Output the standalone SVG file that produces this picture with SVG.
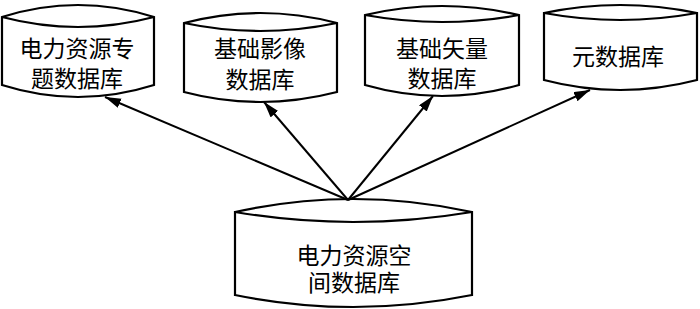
<svg xmlns="http://www.w3.org/2000/svg" width="700" height="309" viewBox="0 0 700 309">
<style>
.db{fill:#fff;stroke:#000;stroke-width:2.2;stroke-linejoin:miter}
.lens{fill:none;stroke:#000;stroke-width:2.2}
.t{font-family:"Liberation Sans","Noto Sans CJK SC",sans-serif;font-size:23px;fill:#000;text-anchor:middle}
.c{stroke:#000;stroke-width:2;fill:none}
</style>
<defs>
<marker id="ah" markerUnits="userSpaceOnUse" markerWidth="18" markerHeight="12" refX="16" refY="5" orient="auto">
<path d="M0,0 L16,5 L0,10 Z" fill="#000"/>
</marker>
</defs>
<rect width="700" height="309" fill="#fff"/>
<g id="n1">
<path class="db" d="M2,17 Q78,-7 154,17 L154,85 Q78,109 2,85 Z"/>
<path class="lens" d="M2,17 Q78,37 154,17"/>
<text class="t" x="77" y="57">电力资源专</text>
<text class="t" x="77" y="87">题数据库</text>
</g>
<g id="n2">
<path class="db" d="M184,23 Q260,3 337,23 L337,92 Q260,112 184,92 Z"/>
<path class="lens" d="M184,23 Q260,39 337,23"/>
<text class="t" x="260" y="57">基础影像</text>
<text class="t" x="260" y="88">数据库</text>
</g>
<g id="n3">
<path class="db" d="M365,15 Q442,-3 519,15 L519,85 Q442,107 365,85 Z"/>
<path class="lens" d="M365,15 Q442,29 519,15"/>
<text class="t" x="442" y="57">基础矢量</text>
<text class="t" x="442" y="87">数据库</text>
</g>
<g id="n4">
<path class="db" d="M544,13 Q620,-3 697,13 L697,80 Q620,100 544,80 Z"/>
<path class="lens" d="M544,13 Q620,27 697,13"/>
<text class="t" x="618" y="65">元数据库</text>
</g>
<g id="n5">
<path class="db" d="M235,212 Q353,186 472,212 L472,295 Q353,319 235,295 Z"/>
<path class="lens" d="M235,212 Q353,232 472,212"/>
<text class="t" x="354" y="264">电力资源空</text>
<text class="t" x="354" y="291">间数据库</text>
</g>
<g id="connectors">
<line class="c" x1="348" y1="200" x2="105" y2="97" marker-end="url(#ah)"/>
<line class="c" x1="348" y1="200" x2="264" y2="102" marker-end="url(#ah)"/>
<line class="c" x1="348" y1="200" x2="433" y2="96" marker-end="url(#ah)"/>
<line class="c" x1="348" y1="200" x2="590" y2="90" marker-end="url(#ah)"/>
</g>
</svg>
